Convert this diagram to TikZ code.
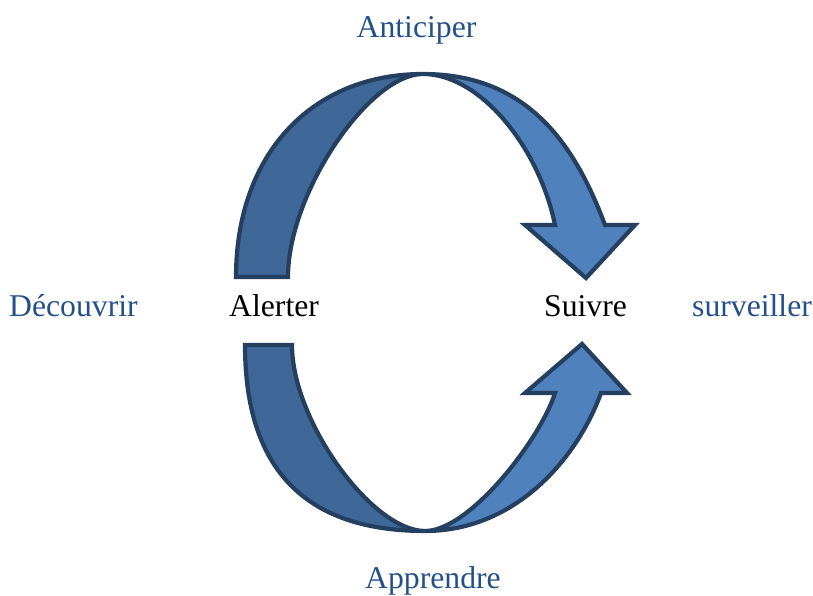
\documentclass[tikz,border=0pt]{standalone}
\usepackage{fontspec}
\setmainfont{Liberation Serif}
\definecolor{bandback}{HTML}{3F6797}
\definecolor{bandfront}{HTML}{4F81BD}
\definecolor{bandline}{HTML}{243F60}
\definecolor{labelblue}{HTML}{24508A}
\begin{document}
\begin{tikzpicture}[x=1pt,y=-1pt,
  band/.style={draw=bandline, line width=4.2pt, line join=miter},
  backband/.style={band, fill=bandback},
  frontband/.style={band, fill=bandfront},
  lbl/.style={inner sep=0pt, font=\fontsize{31.7}{38}\selectfont},
  side/.style={lbl, text=labelblue}]
\useasboundingbox (0,0) rectangle (813,596);

% upper arc: rising back band, then front band ending in a downward head
\draw[backband] (236,277) .. controls (236,155) and (311,74) .. (423,74)
  .. controls (369,74) and (288,193) .. (288,277) -- cycle;
\draw[frontband] (423,74) .. controls (528,74) and (575,145) .. (605,225)
  -- (635,225) -- (586,278) -- (525,225) -- (555,225)
  .. controls (539,147) and (480,74) .. (423,74) -- cycle;

% lower arc: falling back band, then front band ending in an upward head
\draw[backband] (245,345) .. controls (245,469) and (305,531) .. (425,531)
  .. controls (372,531) and (292,421) .. (292,345) -- cycle;
\draw[frontband] (425,531) .. controls (515,531) and (577,459) .. (601,393)
  -- (627,393) -- (582,344) -- (525,393) -- (555,393)
  .. controls (541,438) and (470,531) .. (425,531) -- cycle;

% labels
\node[side, anchor=base] (anticiper) at (416.5,38) {Anticiper};
\node[side, anchor=base] (apprendre) at (433,588.5) {Apprendre};
\node[side, anchor=base west] (decouvrir) at (9,316) {Découvrir};
\node[lbl, anchor=base west] (alerter) at (229,316) {Alerter};
\node[lbl, anchor=base west] (suivre) at (544,316) {Suivre};
\node[side, anchor=base west] (surveiller) at (692,316) {surveiller};
\end{tikzpicture}
\end{document}
